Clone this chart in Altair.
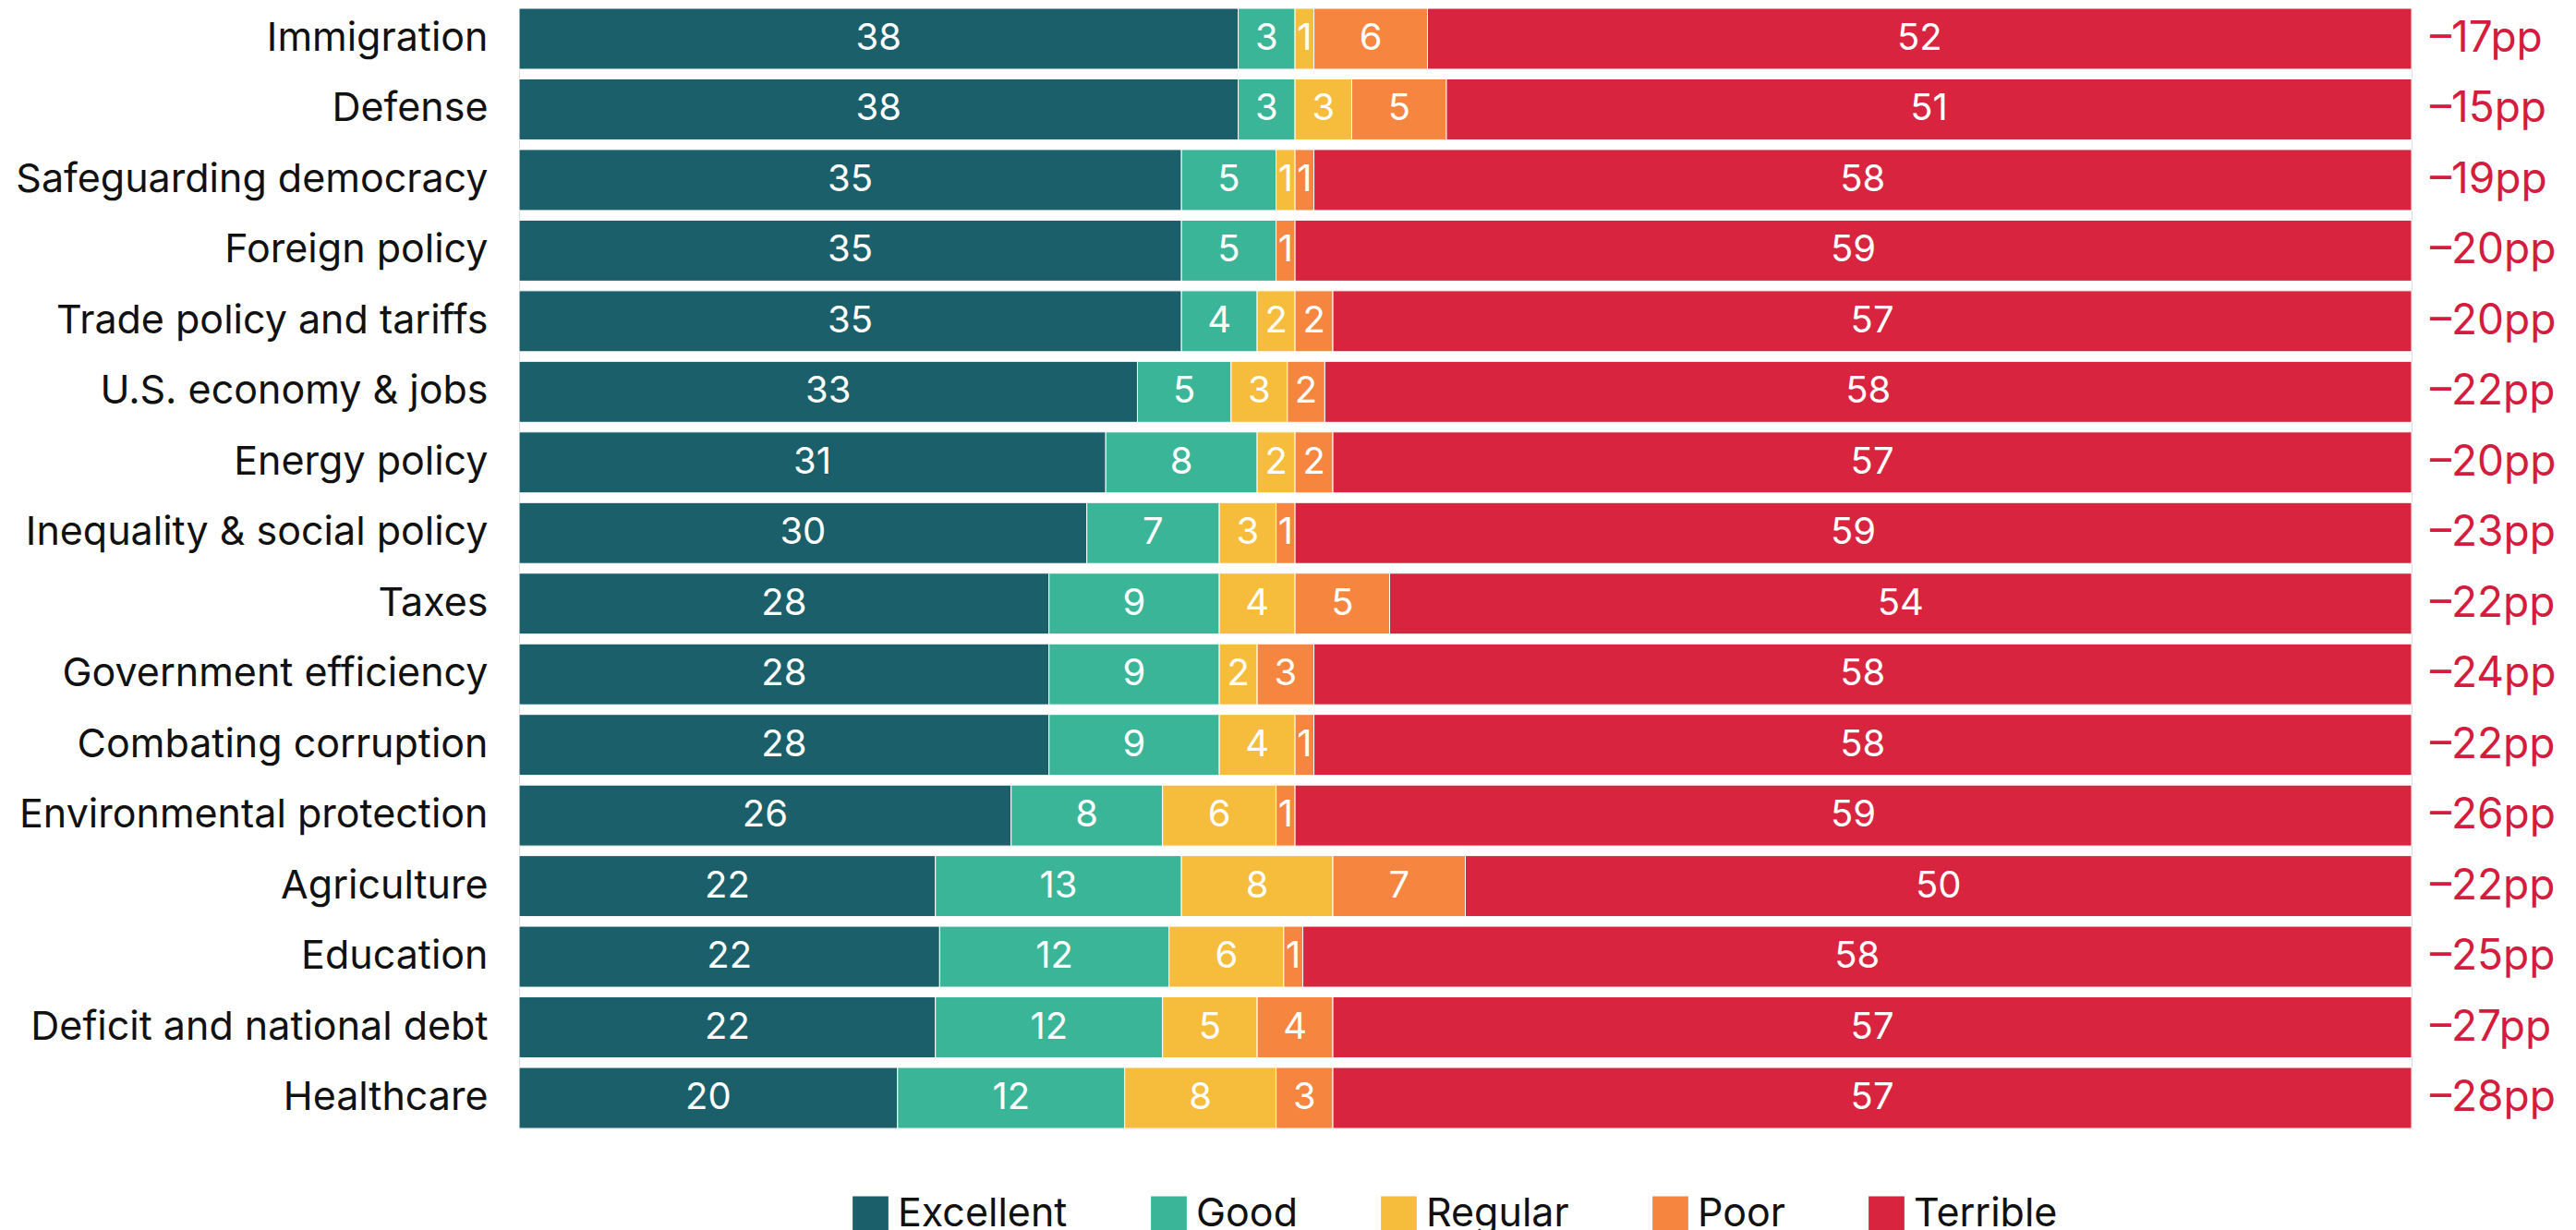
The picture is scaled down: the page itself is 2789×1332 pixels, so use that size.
import altair as alt
import pandas as pd

categories = ["Immigration", "Defense", "Safeguarding democracy", "Foreign policy",
              "Trade policy and tariffs", "U.S. economy & jobs", "Energy policy",
              "Inequality & social policy", "Taxes", "Government efficiency",
              "Combating corruption", "Environmental protection", "Agriculture",
              "Education", "Deficit and national debt", "Healthcare"]
levels = ["Excellent", "Good", "Regular", "Poor", "Terrible"]
excellent = [38, 38, 35, 35, 35, 33, 31, 30, 28, 28, 28, 26, 22, 22, 22, 20]
good = [3, 3, 5, 5, 4, 5, 8, 7, 9, 9, 9, 8, 13, 12, 12, 12]
regular = [1, 3, 1, 0, 2, 3, 2, 3, 4, 2, 4, 6, 8, 6, 5, 8]
poor = [6, 5, 1, 1, 2, 2, 2, 1, 5, 3, 1, 1, 7, 1, 4, 3]
terrible = [52, 51, 58, 59, 57, 58, 57, 59, 54, 58, 58, 59, 50, 58, 57, 57]
net_labels = ["–17pp", "–15pp", "–19pp", "–20pp", "–20pp", "–22pp", "–20pp", "–23pp",
              "–22pp", "–24pp", "–22pp", "–26pp", "–22pp", "–25pp", "–27pp", "–28pp"]
colors = ["#1b5f6b", "#3bb597", "#f6bc3b", "#f5853f", "#d8243f"]

series = [excellent, good, regular, poor, terrible]
rows = []
for i, cat in enumerate(categories):
    for r, (lvl, vals) in enumerate(zip(levels, series)):
        rows.append({"category": cat, "level": lvl, "rank": r, "value": vals[i]})
df = pd.DataFrame(rows)
df_net = pd.DataFrame({"category": categories, "net": net_labels})

FONT = "Inter"

y_enc = alt.Y("category:N", sort=categories, title=None,
              scale=alt.Scale(paddingInner=0.137, paddingOuter=0),
              axis=alt.Axis(labelFontSize=43, labelFont=FONT, labelColor="#111111",
                            labelPadding=34, domain=False, ticks=False, grid=False,
                            labelLimit=1000))

stacked = alt.Chart(df).transform_stack(
    stack="value", groupby=["category"],
    sort=[alt.SortField(field="rank", order="ascending")],
    as_=["v0", "v1"], offset="normalize"
)

bars = stacked.mark_bar(stroke="white", strokeWidth=1).encode(
    y=y_enc,
    x=alt.X("v0:Q", scale=alt.Scale(domain=[0, 1], nice=False, zero=True), axis=None),
    x2="v1:Q",
    color=alt.Color("level:N", scale=alt.Scale(domain=levels, range=colors),
                    legend=alt.Legend(orient="none", legendX=359, legendY=1284,
                                      direction="horizontal", title=None,
                                      symbolType="square", symbolSize=1500,
                                      symbolStrokeWidth=0, symbolOpacity=1,
                                      labelFontSize=43, labelFont=FONT,
                                      labelColor="#111111", labelOffset=8,
                                      labelLimit=1000, columnPadding=88)),
)

labels = stacked.transform_calculate(
    mid="(datum.v0 + datum.v1) / 2"
).transform_filter("datum.value > 0").mark_text(
    color="white", fontSize=40, font=FONT, align="center", baseline="middle"
).encode(
    y=alt.Y("category:N", sort=categories),
    x=alt.X("mid:Q"),
    text=alt.Text("value:Q"),
)

net = alt.Chart(df_net).mark_text(
    color="#d41c3e", fontSize=46, font=FONT, align="left", baseline="middle", dx=20
).encode(
    y=alt.Y("category:N", sort=categories),
    x=alt.datum(1),
    text="net:N",
)

chart = alt.layer(bars, labels, net).properties(
    width=2049, height=1213,
    padding={"left": 554, "top": 1, "right": 166, "bottom": 110},
    autosize=alt.AutoSizeParams(type="none"),
).configure_view(stroke=None).configure(background="white")

chart.save("out.html", embed_options={"renderer": "svg", "actions": False})
